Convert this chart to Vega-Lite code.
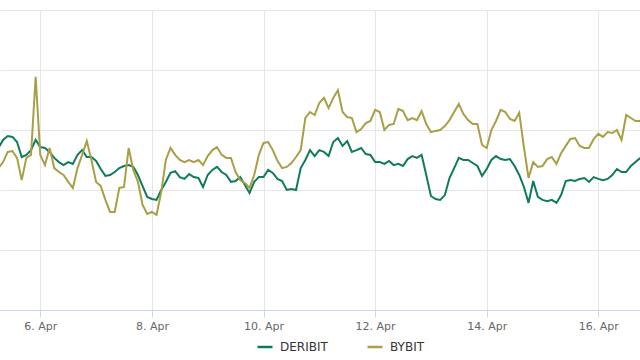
{
"$schema": "https://vega.github.io/schema/vega-lite/v6.json",
"width": 640, "height": 300,
"autosize": {"type": "none"},
"padding": {"top": 10, "left": 0, "right": 0, "bottom": 50},
"background": "white",
"config": {"view": {"stroke": null}, "font": "DejaVu Sans"},
"data": {"values": [
{"t":"2025-04-05T06:00","s":"DERIBIT","v":54.0},{"t":"2025-04-05T08:00","s":"DERIBIT","v":56.7},{"t":"2025-04-05T10:00","s":"DERIBIT","v":58.0},{"t":"2025-04-05T12:00","s":"DERIBIT","v":57.7},{"t":"2025-04-05T14:00","s":"DERIBIT","v":56.0},{"t":"2025-04-05T16:00","s":"DERIBIT","v":51.0},{"t":"2025-04-05T18:00","s":"DERIBIT","v":51.7},{"t":"2025-04-05T20:00","s":"DERIBIT","v":53.3},{"t":"2025-04-05T22:00","s":"DERIBIT","v":56.7},
{"t":"2025-04-06T00:00","s":"DERIBIT","v":54.3},{"t":"2025-04-06T02:00","s":"DERIBIT","v":54.0},{"t":"2025-04-06T04:00","s":"DERIBIT","v":52.7},{"t":"2025-04-06T06:00","s":"DERIBIT","v":50.7},{"t":"2025-04-06T08:00","s":"DERIBIT","v":49.3},{"t":"2025-04-06T10:00","s":"DERIBIT","v":48.3},{"t":"2025-04-06T12:00","s":"DERIBIT","v":49.3},{"t":"2025-04-06T14:00","s":"DERIBIT","v":48.7},{"t":"2025-04-06T16:00","s":"DERIBIT","v":51.7},{"t":"2025-04-06T18:00","s":"DERIBIT","v":53.3},{"t":"2025-04-06T20:00","s":"DERIBIT","v":51.0},{"t":"2025-04-06T22:00","s":"DERIBIT","v":51.0},
{"t":"2025-04-07T00:00","s":"DERIBIT","v":49.7},{"t":"2025-04-07T02:00","s":"DERIBIT","v":47.0},{"t":"2025-04-07T04:00","s":"DERIBIT","v":44.7},{"t":"2025-04-07T06:00","s":"DERIBIT","v":45.0},{"t":"2025-04-07T08:00","s":"DERIBIT","v":46.0},{"t":"2025-04-07T10:00","s":"DERIBIT","v":47.3},{"t":"2025-04-07T12:00","s":"DERIBIT","v":48.0},{"t":"2025-04-07T14:00","s":"DERIBIT","v":48.3},{"t":"2025-04-07T16:00","s":"DERIBIT","v":47.7},{"t":"2025-04-07T18:00","s":"DERIBIT","v":45.0},{"t":"2025-04-07T20:00","s":"DERIBIT","v":41.3},{"t":"2025-04-07T22:00","s":"DERIBIT","v":37.7},
{"t":"2025-04-08T00:00","s":"DERIBIT","v":37.0},{"t":"2025-04-08T02:00","s":"DERIBIT","v":36.7},{"t":"2025-04-08T04:00","s":"DERIBIT","v":40.0},{"t":"2025-04-08T06:00","s":"DERIBIT","v":42.7},{"t":"2025-04-08T08:00","s":"DERIBIT","v":45.7},{"t":"2025-04-08T10:00","s":"DERIBIT","v":46.3},{"t":"2025-04-08T12:00","s":"DERIBIT","v":44.3},{"t":"2025-04-08T14:00","s":"DERIBIT","v":43.7},{"t":"2025-04-08T16:00","s":"DERIBIT","v":45.3},{"t":"2025-04-08T18:00","s":"DERIBIT","v":44.3},{"t":"2025-04-08T20:00","s":"DERIBIT","v":44.0},{"t":"2025-04-08T22:00","s":"DERIBIT","v":41.0},
{"t":"2025-04-09T00:00","s":"DERIBIT","v":45.0},{"t":"2025-04-09T02:00","s":"DERIBIT","v":46.7},{"t":"2025-04-09T04:00","s":"DERIBIT","v":47.7},{"t":"2025-04-09T06:00","s":"DERIBIT","v":46.0},{"t":"2025-04-09T08:00","s":"DERIBIT","v":45.0},{"t":"2025-04-09T10:00","s":"DERIBIT","v":42.7},{"t":"2025-04-09T12:00","s":"DERIBIT","v":43.0},{"t":"2025-04-09T14:00","s":"DERIBIT","v":44.3},{"t":"2025-04-09T16:00","s":"DERIBIT","v":41.7},{"t":"2025-04-09T18:00","s":"DERIBIT","v":39.0},{"t":"2025-04-09T20:00","s":"DERIBIT","v":42.7},{"t":"2025-04-09T22:00","s":"DERIBIT","v":44.3},
{"t":"2025-04-10T00:00","s":"DERIBIT","v":44.3},{"t":"2025-04-10T02:00","s":"DERIBIT","v":46.7},{"t":"2025-04-10T04:00","s":"DERIBIT","v":45.7},{"t":"2025-04-10T06:00","s":"DERIBIT","v":43.7},{"t":"2025-04-10T08:00","s":"DERIBIT","v":43.0},{"t":"2025-04-10T10:00","s":"DERIBIT","v":40.0},{"t":"2025-04-10T12:00","s":"DERIBIT","v":40.3},{"t":"2025-04-10T14:00","s":"DERIBIT","v":40.0},{"t":"2025-04-10T16:00","s":"DERIBIT","v":47.3},{"t":"2025-04-10T18:00","s":"DERIBIT","v":50.0},{"t":"2025-04-10T20:00","s":"DERIBIT","v":53.3},{"t":"2025-04-10T22:00","s":"DERIBIT","v":51.3},
{"t":"2025-04-11T00:00","s":"DERIBIT","v":53.3},{"t":"2025-04-11T02:00","s":"DERIBIT","v":52.7},{"t":"2025-04-11T04:00","s":"DERIBIT","v":51.3},{"t":"2025-04-11T06:00","s":"DERIBIT","v":56.0},{"t":"2025-04-11T08:00","s":"DERIBIT","v":57.3},{"t":"2025-04-11T10:00","s":"DERIBIT","v":54.7},{"t":"2025-04-11T12:00","s":"DERIBIT","v":56.3},{"t":"2025-04-11T14:00","s":"DERIBIT","v":52.7},{"t":"2025-04-11T16:00","s":"DERIBIT","v":53.3},{"t":"2025-04-11T18:00","s":"DERIBIT","v":54.0},{"t":"2025-04-11T20:00","s":"DERIBIT","v":52.0},{"t":"2025-04-11T22:00","s":"DERIBIT","v":51.7},
{"t":"2025-04-12T00:00","s":"DERIBIT","v":49.3},{"t":"2025-04-12T02:00","s":"DERIBIT","v":49.3},{"t":"2025-04-12T04:00","s":"DERIBIT","v":48.7},{"t":"2025-04-12T06:00","s":"DERIBIT","v":49.7},{"t":"2025-04-12T08:00","s":"DERIBIT","v":48.3},{"t":"2025-04-12T10:00","s":"DERIBIT","v":48.7},{"t":"2025-04-12T12:00","s":"DERIBIT","v":48.0},{"t":"2025-04-12T14:00","s":"DERIBIT","v":50.3},{"t":"2025-04-12T16:00","s":"DERIBIT","v":51.3},{"t":"2025-04-12T18:00","s":"DERIBIT","v":50.7},{"t":"2025-04-12T20:00","s":"DERIBIT","v":51.7},{"t":"2025-04-12T22:00","s":"DERIBIT","v":45.0},
{"t":"2025-04-13T00:00","s":"DERIBIT","v":38.0},{"t":"2025-04-13T02:00","s":"DERIBIT","v":37.0},{"t":"2025-04-13T04:00","s":"DERIBIT","v":36.7},{"t":"2025-04-13T06:00","s":"DERIBIT","v":38.3},{"t":"2025-04-13T08:00","s":"DERIBIT","v":44.0},{"t":"2025-04-13T10:00","s":"DERIBIT","v":47.3},{"t":"2025-04-13T12:00","s":"DERIBIT","v":50.7},{"t":"2025-04-13T14:00","s":"DERIBIT","v":50.0},{"t":"2025-04-13T16:00","s":"DERIBIT","v":50.0},{"t":"2025-04-13T18:00","s":"DERIBIT","v":49.0},{"t":"2025-04-13T20:00","s":"DERIBIT","v":48.0},{"t":"2025-04-13T22:00","s":"DERIBIT","v":44.7},
{"t":"2025-04-14T00:00","s":"DERIBIT","v":47.0},{"t":"2025-04-14T02:00","s":"DERIBIT","v":50.0},{"t":"2025-04-14T04:00","s":"DERIBIT","v":51.3},{"t":"2025-04-14T06:00","s":"DERIBIT","v":50.3},{"t":"2025-04-14T08:00","s":"DERIBIT","v":50.0},{"t":"2025-04-14T10:00","s":"DERIBIT","v":50.3},{"t":"2025-04-14T12:00","s":"DERIBIT","v":48.0},{"t":"2025-04-14T14:00","s":"DERIBIT","v":45.0},{"t":"2025-04-14T16:00","s":"DERIBIT","v":41.0},{"t":"2025-04-14T18:00","s":"DERIBIT","v":35.7},{"t":"2025-04-14T20:00","s":"DERIBIT","v":43.0},{"t":"2025-04-14T22:00","s":"DERIBIT","v":37.7},
{"t":"2025-04-15T00:00","s":"DERIBIT","v":36.7},{"t":"2025-04-15T02:00","s":"DERIBIT","v":36.3},{"t":"2025-04-15T04:00","s":"DERIBIT","v":36.7},{"t":"2025-04-15T06:00","s":"DERIBIT","v":35.7},{"t":"2025-04-15T08:00","s":"DERIBIT","v":38.3},{"t":"2025-04-15T10:00","s":"DERIBIT","v":43.0},{"t":"2025-04-15T12:00","s":"DERIBIT","v":43.3},{"t":"2025-04-15T14:00","s":"DERIBIT","v":43.0},{"t":"2025-04-15T16:00","s":"DERIBIT","v":43.7},{"t":"2025-04-15T18:00","s":"DERIBIT","v":44.0},{"t":"2025-04-15T20:00","s":"DERIBIT","v":42.7},{"t":"2025-04-15T22:00","s":"DERIBIT","v":44.3},
{"t":"2025-04-16T00:00","s":"DERIBIT","v":43.7},{"t":"2025-04-16T02:00","s":"DERIBIT","v":43.3},{"t":"2025-04-16T04:00","s":"DERIBIT","v":43.7},{"t":"2025-04-16T06:00","s":"DERIBIT","v":45.0},{"t":"2025-04-16T08:00","s":"DERIBIT","v":47.0},{"t":"2025-04-16T10:00","s":"DERIBIT","v":46.0},{"t":"2025-04-16T12:00","s":"DERIBIT","v":46.0},{"t":"2025-04-16T14:00","s":"DERIBIT","v":48.0},{"t":"2025-04-16T16:00","s":"DERIBIT","v":49.3},{"t":"2025-04-16T18:00","s":"DERIBIT","v":50.7},
{"t":"2025-04-05T06:00","s":"BYBIT","v":47.3},{"t":"2025-04-05T08:00","s":"BYBIT","v":49.3},{"t":"2025-04-05T10:00","s":"BYBIT","v":52.7},{"t":"2025-04-05T12:00","s":"BYBIT","v":53.0},{"t":"2025-04-05T14:00","s":"BYBIT","v":50.7},{"t":"2025-04-05T16:00","s":"BYBIT","v":43.3},{"t":"2025-04-05T18:00","s":"BYBIT","v":50.7},{"t":"2025-04-05T20:00","s":"BYBIT","v":51.7},{"t":"2025-04-05T22:00","s":"BYBIT","v":77.7},
{"t":"2025-04-06T00:00","s":"BYBIT","v":51.7},{"t":"2025-04-06T02:00","s":"BYBIT","v":48.3},{"t":"2025-04-06T04:00","s":"BYBIT","v":54.0},{"t":"2025-04-06T06:00","s":"BYBIT","v":47.3},{"t":"2025-04-06T08:00","s":"BYBIT","v":46.0},{"t":"2025-04-06T10:00","s":"BYBIT","v":45.0},{"t":"2025-04-06T12:00","s":"BYBIT","v":42.7},{"t":"2025-04-06T14:00","s":"BYBIT","v":40.7},{"t":"2025-04-06T16:00","s":"BYBIT","v":47.3},{"t":"2025-04-06T18:00","s":"BYBIT","v":51.7},{"t":"2025-04-06T20:00","s":"BYBIT","v":56.3},{"t":"2025-04-06T22:00","s":"BYBIT","v":50.0},
{"t":"2025-04-07T00:00","s":"BYBIT","v":42.7},{"t":"2025-04-07T02:00","s":"BYBIT","v":41.3},{"t":"2025-04-07T04:00","s":"BYBIT","v":36.7},{"t":"2025-04-07T06:00","s":"BYBIT","v":32.7},{"t":"2025-04-07T08:00","s":"BYBIT","v":32.7},{"t":"2025-04-07T10:00","s":"BYBIT","v":40.7},{"t":"2025-04-07T12:00","s":"BYBIT","v":41.0},{"t":"2025-04-07T14:00","s":"BYBIT","v":54.0},{"t":"2025-04-07T16:00","s":"BYBIT","v":46.7},{"t":"2025-04-07T18:00","s":"BYBIT","v":42.7},{"t":"2025-04-07T20:00","s":"BYBIT","v":35.0},{"t":"2025-04-07T22:00","s":"BYBIT","v":32.0},
{"t":"2025-04-08T00:00","s":"BYBIT","v":32.7},{"t":"2025-04-08T02:00","s":"BYBIT","v":31.7},{"t":"2025-04-08T04:00","s":"BYBIT","v":39.3},{"t":"2025-04-08T06:00","s":"BYBIT","v":50.0},{"t":"2025-04-08T08:00","s":"BYBIT","v":54.0},{"t":"2025-04-08T10:00","s":"BYBIT","v":51.7},{"t":"2025-04-08T12:00","s":"BYBIT","v":50.0},{"t":"2025-04-08T14:00","s":"BYBIT","v":49.3},{"t":"2025-04-08T16:00","s":"BYBIT","v":50.0},{"t":"2025-04-08T18:00","s":"BYBIT","v":49.3},{"t":"2025-04-08T20:00","s":"BYBIT","v":50.0},{"t":"2025-04-08T22:00","s":"BYBIT","v":48.3},
{"t":"2025-04-09T00:00","s":"BYBIT","v":51.3},{"t":"2025-04-09T02:00","s":"BYBIT","v":53.3},{"t":"2025-04-09T04:00","s":"BYBIT","v":54.3},{"t":"2025-04-09T06:00","s":"BYBIT","v":51.7},{"t":"2025-04-09T08:00","s":"BYBIT","v":50.7},{"t":"2025-04-09T10:00","s":"BYBIT","v":50.7},{"t":"2025-04-09T12:00","s":"BYBIT","v":46.0},{"t":"2025-04-09T14:00","s":"BYBIT","v":43.3},{"t":"2025-04-09T16:00","s":"BYBIT","v":42.3},{"t":"2025-04-09T18:00","s":"BYBIT","v":40.7},{"t":"2025-04-09T20:00","s":"BYBIT","v":45.0},{"t":"2025-04-09T22:00","s":"BYBIT","v":51.7},
{"t":"2025-04-10T00:00","s":"BYBIT","v":55.7},{"t":"2025-04-10T02:00","s":"BYBIT","v":56.0},{"t":"2025-04-10T04:00","s":"BYBIT","v":53.3},{"t":"2025-04-10T06:00","s":"BYBIT","v":49.7},{"t":"2025-04-10T08:00","s":"BYBIT","v":47.3},{"t":"2025-04-10T10:00","s":"BYBIT","v":47.7},{"t":"2025-04-10T12:00","s":"BYBIT","v":49.0},{"t":"2025-04-10T14:00","s":"BYBIT","v":51.0},{"t":"2025-04-10T16:00","s":"BYBIT","v":53.3},{"t":"2025-04-10T18:00","s":"BYBIT","v":64.0},{"t":"2025-04-10T20:00","s":"BYBIT","v":66.0},{"t":"2025-04-10T22:00","s":"BYBIT","v":65.0},
{"t":"2025-04-11T00:00","s":"BYBIT","v":69.0},{"t":"2025-04-11T02:00","s":"BYBIT","v":70.7},{"t":"2025-04-11T04:00","s":"BYBIT","v":67.3},{"t":"2025-04-11T06:00","s":"BYBIT","v":70.7},{"t":"2025-04-11T08:00","s":"BYBIT","v":73.3},{"t":"2025-04-11T10:00","s":"BYBIT","v":66.0},{"t":"2025-04-11T12:00","s":"BYBIT","v":64.3},{"t":"2025-04-11T14:00","s":"BYBIT","v":64.0},{"t":"2025-04-11T16:00","s":"BYBIT","v":59.3},{"t":"2025-04-11T18:00","s":"BYBIT","v":60.3},{"t":"2025-04-11T20:00","s":"BYBIT","v":62.3},{"t":"2025-04-11T22:00","s":"BYBIT","v":63.0},
{"t":"2025-04-12T00:00","s":"BYBIT","v":66.7},{"t":"2025-04-12T02:00","s":"BYBIT","v":66.0},{"t":"2025-04-12T04:00","s":"BYBIT","v":60.0},{"t":"2025-04-12T06:00","s":"BYBIT","v":61.7},{"t":"2025-04-12T08:00","s":"BYBIT","v":62.0},{"t":"2025-04-12T10:00","s":"BYBIT","v":67.0},{"t":"2025-04-12T12:00","s":"BYBIT","v":66.3},{"t":"2025-04-12T14:00","s":"BYBIT","v":63.3},{"t":"2025-04-12T16:00","s":"BYBIT","v":64.0},{"t":"2025-04-12T18:00","s":"BYBIT","v":63.3},{"t":"2025-04-12T20:00","s":"BYBIT","v":66.3},{"t":"2025-04-12T22:00","s":"BYBIT","v":62.0},
{"t":"2025-04-13T00:00","s":"BYBIT","v":59.3},{"t":"2025-04-13T02:00","s":"BYBIT","v":59.7},{"t":"2025-04-13T04:00","s":"BYBIT","v":60.0},{"t":"2025-04-13T06:00","s":"BYBIT","v":61.3},{"t":"2025-04-13T08:00","s":"BYBIT","v":63.3},{"t":"2025-04-13T10:00","s":"BYBIT","v":66.0},{"t":"2025-04-13T12:00","s":"BYBIT","v":68.7},{"t":"2025-04-13T14:00","s":"BYBIT","v":65.3},{"t":"2025-04-13T16:00","s":"BYBIT","v":63.3},{"t":"2025-04-13T18:00","s":"BYBIT","v":62.0},{"t":"2025-04-13T20:00","s":"BYBIT","v":62.0},{"t":"2025-04-13T22:00","s":"BYBIT","v":55.0},
{"t":"2025-04-14T00:00","s":"BYBIT","v":54.0},{"t":"2025-04-14T02:00","s":"BYBIT","v":60.0},{"t":"2025-04-14T04:00","s":"BYBIT","v":63.0},{"t":"2025-04-14T06:00","s":"BYBIT","v":66.7},{"t":"2025-04-14T08:00","s":"BYBIT","v":66.0},{"t":"2025-04-14T10:00","s":"BYBIT","v":63.7},{"t":"2025-04-14T12:00","s":"BYBIT","v":63.0},{"t":"2025-04-14T14:00","s":"BYBIT","v":65.7},{"t":"2025-04-14T16:00","s":"BYBIT","v":54.3},{"t":"2025-04-14T18:00","s":"BYBIT","v":44.0},{"t":"2025-04-14T20:00","s":"BYBIT","v":49.3},{"t":"2025-04-14T22:00","s":"BYBIT","v":47.7},
{"t":"2025-04-15T00:00","s":"BYBIT","v":48.0},{"t":"2025-04-15T02:00","s":"BYBIT","v":50.3},{"t":"2025-04-15T04:00","s":"BYBIT","v":51.0},{"t":"2025-04-15T06:00","s":"BYBIT","v":48.7},{"t":"2025-04-15T08:00","s":"BYBIT","v":52.3},{"t":"2025-04-15T10:00","s":"BYBIT","v":54.7},{"t":"2025-04-15T12:00","s":"BYBIT","v":57.0},{"t":"2025-04-15T14:00","s":"BYBIT","v":57.3},{"t":"2025-04-15T16:00","s":"BYBIT","v":54.7},{"t":"2025-04-15T18:00","s":"BYBIT","v":54.0},{"t":"2025-04-15T20:00","s":"BYBIT","v":54.0},{"t":"2025-04-15T22:00","s":"BYBIT","v":57.0},
{"t":"2025-04-16T00:00","s":"BYBIT","v":58.7},{"t":"2025-04-16T02:00","s":"BYBIT","v":57.7},{"t":"2025-04-16T04:00","s":"BYBIT","v":59.3},{"t":"2025-04-16T06:00","s":"BYBIT","v":59.0},{"t":"2025-04-16T08:00","s":"BYBIT","v":60.0},{"t":"2025-04-16T10:00","s":"BYBIT","v":56.7},{"t":"2025-04-16T12:00","s":"BYBIT","v":65.0},{"t":"2025-04-16T14:00","s":"BYBIT","v":64.0},{"t":"2025-04-16T16:00","s":"BYBIT","v":63.0},{"t":"2025-04-16T18:00","s":"BYBIT","v":63.0}
]},
"mark": {"type": "line", "strokeWidth": 2, "clip": true},
"encoding": {
  "x": {"field": "t", "type": "temporal",
    "scale": {"domain": [{"year": 2025, "month": 4, "date": 5, "hours": 6, "minutes": 40}, {"year": 2025, "month": 4, "date": 16, "hours": 17, "minutes": 56}]},
    "axis": {"title": null, "format": "%-d. %b", "grid": true, "gridColor": "#e6e6e6",
      "values": [{"year": 2025, "month": 4, "date": 6}, {"year": 2025, "month": 4, "date": 8}, {"year": 2025, "month": 4, "date": 10}, {"year": 2025, "month": 4, "date": 12}, {"year": 2025, "month": 4, "date": 14}, {"year": 2025, "month": 4, "date": 16}],
      "domainColor": "#ccd6eb", "tickColor": "#ccd6eb", "tickSize": 7, "labelPadding": 3,
      "labelColor": "#666666", "labelFontSize": 11, "labelFont": "DejaVu Sans"}},
  "y": {"field": "v", "type": "quantitative", "scale": {"domain": [0, 100]},
    "axis": {"title": null, "values": [0, 20, 40, 60, 80, 100], "labels": false, "ticks": false, "domain": false, "grid": true, "gridColor": "#e6e6e6"}},
  "color": {"field": "s", "type": "nominal", "sort": ["DERIBIT", "BYBIT"],
    "scale": {"domain": ["DERIBIT", "BYBIT"], "range": ["#0e7c5b", "#a89f46"]},
    "legend": {"title": null, "orient": "none", "direction": "horizontal", "legendX": 256, "legendY": 328,
      "symbolType": "stroke", "symbolSize": 225, "symbolStrokeWidth": 2.5, "labelOffset": 6,
      "labelFontSize": 12, "labelColor": "#333333", "labelFont": "DejaVu Sans", "columnPadding": 34, "padding": 0}}
}
}
